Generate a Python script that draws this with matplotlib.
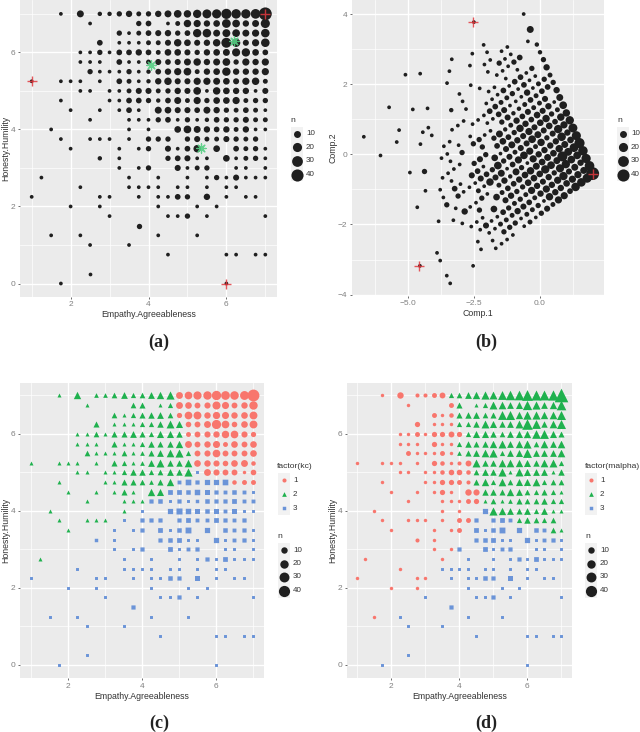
import numpy as np
import matplotlib
matplotlib.use("Agg")
import matplotlib.pyplot as plt
from matplotlib.patches import Rectangle

"""
Bubble plots of Honesty.Humility vs Empathy.Agreeableness, the PCA view and two clusterings
"""

plt.rcParams['font.family'] = ['Liberation Sans', 'DejaVu Sans']

# one row per Honesty.Humility level
honesty = [7, 6.75, 6.5, 6.25, 6, 5.75, 5.5, 5.25, 5, 4.75, 4.5, 4.25, 4, 3.75, 3.5,
           3.25, 3, 2.75, 2.5, 2.25, 2, 1.75, 1.5, 1.25, 1, 0.75, 0.25, 0]

empathy = [
    [1.75, 2.25, 2.75, 3, 3.25, 3.5, 3.75, 4, 4.25, 4.5, 4.75, 5, 5.25, 5.5, 5.75, 6, 6.25, 6.5, 6.75, 7],
    [2.5, 3.75, 4, 4.5, 4.75, 5, 5.25, 5.5, 5.75, 6, 6.25, 6.5, 6.75, 7],
    [3.25, 3.5, 3.75, 4, 4.25, 4.5, 4.75, 5, 5.25, 5.5, 5.75, 6, 6.25, 6.5, 6.75, 7],
    [2.75, 3.25, 3.5, 3.75, 4, 4.25, 4.5, 4.75, 5, 5.25, 5.5, 5.75, 6, 6.25, 6.5, 6.75, 7],
    [2.25, 2.5, 2.75, 3, 3.25, 3.5, 3.75, 4, 4.25, 4.5, 4.75, 5, 5.25, 5.5, 5.75, 6, 6.25, 6.5, 6.75, 7],
    [2.25, 2.5, 2.75, 3.25, 3.5, 3.75, 4, 4.25, 4.5, 4.75, 5, 5.25, 5.5, 5.75, 6, 6.25, 6.5, 6.75, 7],
    [2.5, 2.75, 3, 3.25, 3.5, 3.75, 4, 4.25, 4.5, 4.75, 5, 5.25, 5.5, 5.75, 6, 6.25, 6.5, 6.75, 7],
    [1, 1.75, 2, 2.25, 2.75, 3.25, 3.5, 3.75, 4, 4.25, 4.5, 4.75, 5, 5.25, 5.5, 5.75, 6, 6.25, 6.5, 6.75, 7],
    [2.25, 2.5, 3, 3.25, 3.5, 3.75, 4, 4.25, 4.5, 4.75, 5, 5.25, 5.5, 5.75, 6, 6.25, 6.5, 6.75, 7],
    [1.75, 3, 3.25, 3.5, 3.75, 4, 4.25, 4.5, 4.75, 5, 5.25, 5.5, 5.75, 6, 6.25, 6.5, 6.75, 7],
    [2, 2.75, 3.25, 3.5, 3.75, 4.25, 4.5, 4.75, 5, 5.25, 5.5, 5.75, 6, 6.25, 6.5, 6.75, 7],
    [2.5, 3.5, 3.75, 4, 4.25, 4.5, 4.75, 5, 5.25, 5.5, 5.75, 6, 6.25, 6.5, 6.75, 7],
    [1.5, 3.5, 4, 4.75, 5, 5.25, 5.5, 5.75, 6, 6.25, 6.5, 6.75, 7],
    [1.75, 2.5, 2.75, 3, 3.5, 4, 4.25, 4.5, 5, 5.25, 5.5, 5.75, 6, 6.25, 6.5, 6.75],
    [2, 3.25, 3.75, 4, 4.5, 4.75, 5, 5.25, 5.75, 6.25, 6.5, 6.75, 7],
    [2.75, 3.25, 4.5, 4.75, 5, 5.25, 5.5, 6, 6.25, 6.5, 6.75, 7],
    [3.25, 3.75, 4, 4.75, 5, 5.25, 5.5, 6.25, 6.5, 7],
    [1.25, 3.5, 4.25, 5, 5.5, 5.75, 6, 6.25, 6.5, 6.75, 7],
    [2.25, 3.5, 3.75, 4, 4.25, 4.75, 5, 5.5, 6, 6.25],
    [1, 2.75, 3, 3.75, 4.25, 4.5, 4.75, 5, 5.5, 6, 6.5, 6.75],
    [2, 2.75, 4.25, 5.25, 5.75],
    [3, 4.5, 4.75, 5, 5.5, 7],
    [3.75],
    [1.5, 2.25, 4.25, 5.25],
    [2.5, 3.5],
    [4.5, 6, 6.25, 6.75, 7],
    [2.5],
    [1.75, 6],
]

counts = [
    [2, 10, 3, 3, 5, 8, 4, 5, 8, 10, 13, 12, 16, 19, 20, 26, 22, 21, 23, 46],
    [2, 5, 6, 2, 4, 12, 11, 8, 9, 18, 13, 8, 10, 20],
    [5, 2, 4, 6, 7, 8, 5, 6, 16, 17, 10, 14, 13, 10, 11, 17],
    [6, 2, 2, 2, 4, 4, 7, 12, 9, 7, 8, 12, 25, 16, 7, 11, 17],
    [2, 2, 5, 2, 6, 6, 8, 6, 4, 9, 9, 7, 5, 8, 9, 10, 15, 16, 9, 6],
    [2, 2, 2, 6, 2, 2, 4, 7, 6, 7, 10, 12, 8, 10, 13, 5, 11, 8, 11],
    [5, 2, 2, 2, 5, 2, 3, 6, 8, 11, 13, 4, 8, 9, 16, 8, 8, 8, 11],
    [2, 2, 2, 2, 2, 6, 4, 2, 3, 8, 12, 7, 7, 11, 11, 10, 9, 7, 11, 12, 4],
    [2, 2, 2, 2, 4, 7, 7, 4, 5, 8, 7, 13, 2, 12, 9, 8, 8, 2, 7],
    [2, 2, 2, 6, 6, 5, 3, 6, 10, 4, 11, 5, 9, 9, 11, 4, 5, 5],
    [2, 2, 2, 6, 2, 10, 9, 7, 7, 6, 10, 8, 5, 4, 6, 4, 2],
    [2, 2, 2, 2, 5, 6, 2, 5, 2, 3, 6, 5, 5, 7, 4, 4],
    [2, 2, 2, 9, 13, 10, 8, 6, 8, 4, 8, 2, 2],
    [2, 2, 2, 2, 2, 5, 5, 5, 5, 7, 4, 4, 7, 5, 4, 5],
    [2, 2, 2, 5, 7, 2, 6, 12, 9, 6, 4, 5, 2],
    [3, 2, 5, 6, 7, 2, 2, 9, 2, 4, 5, 2],
    [2, 2, 5, 7, 2, 4, 5, 2, 2, 2],
    [2, 2, 2, 2, 2, 5, 2, 7, 2, 2, 2],
    [2, 2, 2, 2, 2, 2, 2, 2, 2, 2],
    [2, 2, 2, 2, 2, 2, 6, 5, 8, 2, 2, 2],
    [2, 2, 2, 2, 2],
    [2, 2, 2, 5, 2, 2],
    [5],
    [2, 2, 2, 2],
    [2, 2],
    [2, 2, 2, 2, 2],
    [2],
    [2, 2],
]

comp1 = [
    [-.62, -.37, -.12, 0, .13, .25, .38, .50, .63, .75, .88, 1.00, 1.13, 1.25, 1.38, 1.50, 1.63, 1.75, 1.88, 2.00],
    [-.46, .16, .29, .54, .66, .79, .91, 1.04, 1.16, 1.29, 1.41, 1.54, 1.66, 1.79],
    [-.31, -.18, -.06, .07, .19, .32, .44, .57, .69, .82, .94, 1.07, 1.19, 1.32, 1.44, 1.57],
    [-.77, -.52, -.40, -.27, -.15, -.02, .10, .23, .35, .48, .60, .73, .85, .98, 1.10, 1.23, 1.35],
    [-1.24, -1.11, -.99, -.86, -.74, -.61, -.49, -.36, -.24, -.11, .01, .14, .26, .39, .51, .64, .76, .89, 1.01, 1.14],
    [-1.46, -1.33, -1.21, -.96, -.83, -.71, -.58, -.46, -.33, -.21, -.08, .04, .17, .29, .42, .54, .67, .79, .92],
    [-1.55, -1.42, -1.30, -1.17, -1.05, -.92, -.80, -.67, -.55, -.42, -.30, -.17, -.05, .08, .20, .33, .45, .58, .70],
    [-2.51, -2.14, -2.01, -1.89, -1.64, -1.39, -1.26, -1.14, -1.01, -.89, -.76, -.64, -.51, -.39, -.26, -.14, -.01, .11, .24, .36, .49],
    [-2.11, -1.98, -1.73, -1.61, -1.48, -1.36, -1.23, -1.11, -.98, -.86, -.73, -.61, -.48, -.36, -.23, -.11, .02, .15, .27],
    [-2.57, -1.95, -1.82, -1.70, -1.57, -1.45, -1.32, -1.20, -1.07, -.95, -.82, -.70, -.57, -.45, -.32, -.20, -.07, .05],
    [-2.66, -2.29, -2.04, -1.91, -1.79, -1.54, -1.41, -1.29, -1.16, -1.04, -.91, -.79, -.66, -.54, -.41, -.29, -.16],
    [-2.63, -2.13, -2.00, -1.88, -1.75, -1.63, -1.50, -1.38, -1.25, -1.13, -1.00, -.88, -.75, -.63, -.50, -.38],
    [-3.35, -2.35, -2.10, -1.72, -1.60, -1.47, -1.35, -1.22, -1.10, -.97, -.85, -.72, -.60],
    [-3.44, -3.06, -2.94, -2.81, -2.56, -2.31, -2.19, -2.06, -1.81, -1.69, -1.56, -1.44, -1.31, -1.19, -1.06, -.94],
    [-3.53, -2.90, -2.65, -2.53, -2.28, -2.15, -2.03, -1.90, -1.65, -1.40, -1.28, -1.15, -1.03],
    [-3.37, -3.12, -2.50, -2.37, -2.25, -2.12, -2.00, -1.75, -1.62, -1.50, -1.37, -1.25],
    [-3.34, -3.09, -2.96, -2.59, -2.46, -2.34, -2.21, -1.84, -1.71, -1.46],
    [-4.55, -3.43, -3.05, -2.68, -2.43, -2.30, -2.18, -2.05, -1.93, -1.80, -1.68],
    [-4.27, -3.65, -3.52, -3.40, -3.27, -3.02, -2.90, -2.65, -2.40, -2.27],
    [-5.11, -4.24, -4.11, -3.74, -3.49, -3.36, -3.24, -3.11, -2.86, -2.61, -2.36, -2.24],
    [-4.83, -4.45, -3.70, -3.20, -2.95],
    [-4.54, -3.79, -3.67, -3.54, -3.29, -2.54],
    [-4.39],
    [-5.73, -5.35, -4.35, -3.85],
    [-5.44, -4.94],
    [-4.66, -3.91, -3.79, -3.54, -3.41],
    [-6.09],
    [-6.69, -4.56],
]

comp2 = [
    [4.00, 3.56, 3.13, 2.91, 2.70, 2.48, 2.26, 2.05, 1.83, 1.62, 1.40, 1.18, .97, .75, .53, .32, .10, -.12, -.33, -.55],
    [3.22, 2.14, 1.92, 1.49, 1.27, 1.06, .84, .62, .41, .19, -.03, -.24, -.46, -.68],
    [2.45, 2.23, 2.01, 1.80, 1.58, 1.37, 1.15, .93, .72, .50, .28, .07, -.15, -.37, -.58, -.80],
    [2.76, 2.32, 2.11, 1.89, 1.67, 1.46, 1.24, 1.02, .81, .59, .37, .16, -.06, -.28, -.49, -.71, -.93],
    [3.06, 2.85, 2.63, 2.41, 2.20, 1.98, 1.76, 1.55, 1.33, 1.12, .90, .68, .47, .25, .03, -.18, -.40, -.62, -.83, -1.05],
    [2.94, 2.72, 2.51, 2.07, 1.86, 1.64, 1.42, 1.21, .99, .77, .56, .34, .12, -.09, -.31, -.53, -.74, -.96, -1.18],
    [2.60, 2.38, 2.16, 1.95, 1.73, 1.51, 1.30, 1.08, .87, .65, .43, .22, 0, -.22, -.43, -.65, -.87, -1.08, -1.30],
    [3.77, 3.12, 2.91, 2.69, 2.26, 1.82, 1.61, 1.39, 1.17, .96, .74, .52, .31, .09, -.13, -.34, -.56, -.78, -.99, -1.21, -1.43],
    [2.56, 2.35, 1.91, 1.70, 1.48, 1.26, 1.05, .83, .62, .40, .18, -.03, -.25, -.47, -.68, -.90, -1.12, -1.33, -1.55],
    [2.87, 1.79, 1.57, 1.36, 1.14, .92, .71, .49, .27, .06, -.16, -.38, -.59, -.81, -1.03, -1.24, -1.46, -1.68],
    [2.53, 1.88, 1.45, 1.23, 1.01, .58, .37, .15, -.07, -.29, -.50, -.72, -.93, -1.15, -1.37, -1.58, -1.80],
    [1.97, 1.11, .89, .67, .46, .24, .02, -.19, -.41, -.63, -.84, -1.06, -1.28, -1.49, -1.71, -1.93],
    [2.71, .98, .55, -.10, -.32, -.54, -.75, -.97, -1.18, -1.40, -1.62, -1.83, -2.05],
    [2.37, 1.72, 1.51, 1.29, .86, .42, .21, -.01, -.44, -.66, -.88, -1.09, -1.31, -1.53, -1.74, -1.96],
    [2.03, .95, .51, .30, -.14, -.35, -.57, -.79, -1.22, -1.65, -1.87, -2.08, -2.30],
    [1.26, .82, -.26, -.48, -.69, -.91, -1.13, -1.56, -1.78, -1.99, -2.21, -2.43],
    [.70, .26, .05, -.60, -.82, -1.04, -1.25, -1.90, -2.12, -2.55],
    [2.30, .36, -.29, -.94, -1.38, -1.59, -1.81, -2.03, -2.24, -2.46, -2.68],
    [1.31, .23, .01, -.20, -.42, -.85, -1.07, -1.50, -1.93, -2.15],
    [2.27, .76, .54, -.11, -.54, -.76, -.98, -1.19, -1.63, -2.06, -2.49, -2.71],
    [1.28, .63, -.67, -1.54, -1.97],
    [.29, -1.01, -1.23, -1.44, -1.88, -3.18],
    [-.49],
    [1.34, .69, -1.04, -1.91],
    [.35, -.52],
    [-1.51, -2.81, -3.03, -3.46, -3.68],
    [-.03],
    [.50, -3.18],
]

# cluster of every point, one digit per point of the row
kc = ["22222222222111111111", "22222111111111", "2222222111111111", "22222222211111111",
      "22222222222211111111", "2222222222211111111", "2222222222221111111",
      "222222222222221111111", "2222222222223111111", "222222222333333111",
      "22222223333333333", "2222333333333333", "2233333333333", "2222333333333333",
      "2333333333333", "333333333333", "3333333333", "23333333333", "3333333333",
      "333333333333", "33333", "333333", "3", "3333", "33", "33333", "3", "33"]

malpha = ["11111122222222222222", "11222222222222", "1112222222222222", "11112222222222222",
          "11111111222222222222", "1111112222222222222", "1111112222222222222",
          "111111111122222222222", "1111111122222222222", "111111122222222222",
          "11111112222222222", "1111112222222222", "1113222222222", "1111111333322222",
          "1111333333322", "113333333333", "1133333333", "11333333333", "1333333333",
          "111333333333", "11333", "333333", "3", "1333", "33", "33333", "3", "33"]

red_x = [1, 7, 6]
red_y = [5.25, 7, 0]
green_x = [6.2, 4.07, 5.35]
green_y = [6.3, 5.68, 3.53]
red_comp1 = [-2.56, 2.0, -4.59]
red_comp2 = [3.77, -0.55, -3.18]

legend_n = [10, 20, 30, 40]
legend_groups = ['1', '2', '3']

group_colors = {'1': '#F8766D', '2': '#1FB14E', '3': '#6B94D8'}
group_markers = {'1': 'o', '2': '^', '3': 's'}
group_scale = {'1': 1.0, '2': 1.15, '3': 0.85}
POINT_BLACK = '#1f1f1f'
W, H = 640, 732


def diameter(n, scale=1.0):
    """ point diameter in matplotlib points, area scale like ggplot scale_size """
    return scale * 2.15 * (1 + 5 * np.sqrt((np.asarray(n, dtype=float) - 1) / 45)) * 0.72


def panel(fig, l, t, r, b, xlim, ylim, xmajor, xminor, ymajor, yminor, xlabels, ylabels, xlabel, ylabel):
    """ one ggplot looking panel, edges given in pixels """
    ax = fig.add_axes([l / W, 1 - b / H, (r - l) / W, (b - t) / H])
    ax.set_facecolor('#EBEBEB')
    for s in ax.spines.values():
        s.set_visible(False)
    ax.set_xlim(xlim)
    ax.set_ylim(ylim)
    ax.set_xticks(xmajor)
    ax.set_xticklabels(xlabels)
    ax.set_yticks(ymajor)
    ax.set_yticklabels(ylabels)
    ax.set_xticks(xminor, minor=True)
    ax.set_yticks(yminor, minor=True)
    ax.tick_params(which='major', length=1.6, width=0.6, color='#555555', labelcolor='#808080',
                   labelsize=6, pad=1.5)
    ax.tick_params(which='minor', length=0)
    ax.grid(which='major', color='white', lw=1.0)
    ax.grid(which='minor', color='white', lw=0.5)
    ax.set_axisbelow(True)
    ax.set_xlabel(xlabel, fontsize=6.3, color='#333333', labelpad=1.5)
    ax.set_ylabel(ylabel, fontsize=6.3, color='#333333', labelpad=0.6)
    return ax


def black_points(ax, xs, ys, scale=1.0):
    for x_row, y_row, n_row in zip(xs, ys, counts):
        ax.scatter(x_row, y_row, s=diameter(n_row, scale) ** 2, c=POINT_BLACK, linewidths=0, zorder=3)


def group_points(ax, labels, scale=0.92):
    for h, x_row, n_row, g_row in zip(honesty, empathy, counts, labels):
        for x, n, g in zip(x_row, n_row, g_row):
            # no snapping, the small squares otherwise collapse to 2 px
            ax.scatter([x], [h], s=(diameter(n, scale) * group_scale[g]) ** 2, c=group_colors[g],
                       marker=group_markers[g], linewidths=0, zorder=3, snap=False)


def crosses(ax, xs, ys):
    ax.scatter(xs, ys, marker='+', s=62, c='#e23a3f', linewidths=1.0, alpha=0.85, zorder=4)


def n_legend(ov, title_x, title_y, key_x, key_ys, scale=1.0, label_gap=15):
    ov.text(title_x, title_y, 'n', fontsize=6.1, color='#333333', ha='left', va='center')
    for y, n in zip(key_ys, legend_n):
        ov.add_patch(Rectangle((key_x, y - 6.8), 12.3, 13.6, fc='#F2F2F2', ec='none'))
        ov.scatter([key_x + 6.2], [y], s=diameter(n, scale) ** 2, c=POINT_BLACK, linewidths=0)
        ov.text(key_x + label_gap, y, str(n), fontsize=5.8, color='#333333', ha='left', va='center')


def group_legend(ov, title, title_x, title_y, key_x, key_ys):
    ov.text(title_x, title_y, title, fontsize=6.1, color='#333333', ha='left', va='center')
    for y, g in zip(key_ys, legend_groups):
        ov.add_patch(Rectangle((key_x, y - 6.8), 12.3, 13.6, fc='#F2F2F2', ec='none'))
        ov.scatter([key_x + 6.2], [y], s=(diameter(3, 0.92) * group_scale[g]) ** 2, c=group_colors[g],
                   marker=group_markers[g], linewidths=0, snap=False)
        ov.text(key_x + 15, y, g, fontsize=5.8, color='#333333', ha='left', va='center')


def main():
    fig = plt.figure(figsize=(W / 100, H / 100), dpi=100)

    grid_x = ([2, 4, 6], [1, 3, 5, 7])
    grid_y = ([0, 2, 4, 6], [1, 3, 5, 7])
    e_lim, h_lim = (0.7, 7.3), (-0.35, 7.36)
    e_labels, h_labels = ['2', '4', '6'], ['0', '2', '4', '6']

    # (a)
    ax = panel(fig, 20, 0, 277, 297, e_lim, h_lim, *grid_x, *grid_y, e_labels, h_labels,
               'Empathy.Agreeableness', 'Honesty.Humility')
    black_points(ax, empathy, [[h] * len(r) for h, r in zip(honesty, empathy)])
    crosses(ax, red_x, red_y)
    ax.scatter(green_x, green_y, marker=(8, 2, 0), s=45, c='#55cf83', linewidths=0.9, alpha=0.9, zorder=4)

    # (b)
    ax = panel(fig, 351.7, 0, 604, 296, (-7.15, 2.43), (-4.04, 4.4),
               [-5, -2.5, 0], [-6.25, -3.75, -1.25, 1.25], [-4, -2, 0, 2, 4], [-3, -1, 1, 3],
               ['\u22125.0', '\u22122.5', '0.0'], ['\u22124', '\u22122', '0', '2', '4'], 'Comp.1', 'Comp.2')
    black_points(ax, comp1, comp2)
    crosses(ax, red_comp1, red_comp2)

    # (c)
    ax = panel(fig, 20, 382.7, 264, 678.3, e_lim, (-0.35, 7.33), *grid_x, *grid_y, e_labels, h_labels,
               'Empathy.Agreeableness', 'Honesty.Humility')
    group_points(ax, kc)

    # (d)
    ax = panel(fig, 346.7, 382.7, 571.7, 678.3, e_lim, (-0.35, 7.33), *grid_x, *grid_y, e_labels, h_labels,
               'Empathy.Agreeableness', 'Honesty.Humility')
    group_points(ax, malpha)

    # legends and captions go on a pixel overlay
    ov = fig.add_axes([0, 0, 1, 1], zorder=10)
    ov.set_xlim(0, W)
    ov.set_ylim(H, 0)
    ov.axis('off')
    top_keys = [133.7, 147.3, 161, 174.7]
    low_keys = [550, 563.7, 577, 591]
    group_keys = [480, 494, 508]
    n_legend(ov, 290, 120.7, 291, top_keys)
    n_legend(ov, 617, 120.7, 617, top_keys, label_gap=14)
    group_legend(ov, 'factor(kc)', 277, 467, 278, group_keys)
    n_legend(ov, 277, 536, 278, low_keys, 0.92)
    group_legend(ov, 'factor(malpha)', 585, 467, 585, group_keys)
    n_legend(ov, 585, 536, 585, low_keys, 0.92)

    for x, y, cap in [(159, 342, '(a)'), (486, 342, '(b)'), (159, 723, '(c)'), (486, 723, '(d)')]:
        ov.text(x, y, cap, fontsize=13, fontweight='bold', family='Liberation Serif',
                color='#222222', ha='center', va='center')

    fig.savefig('out.png', dpi=100)


if __name__ == "__main__":
    main()
